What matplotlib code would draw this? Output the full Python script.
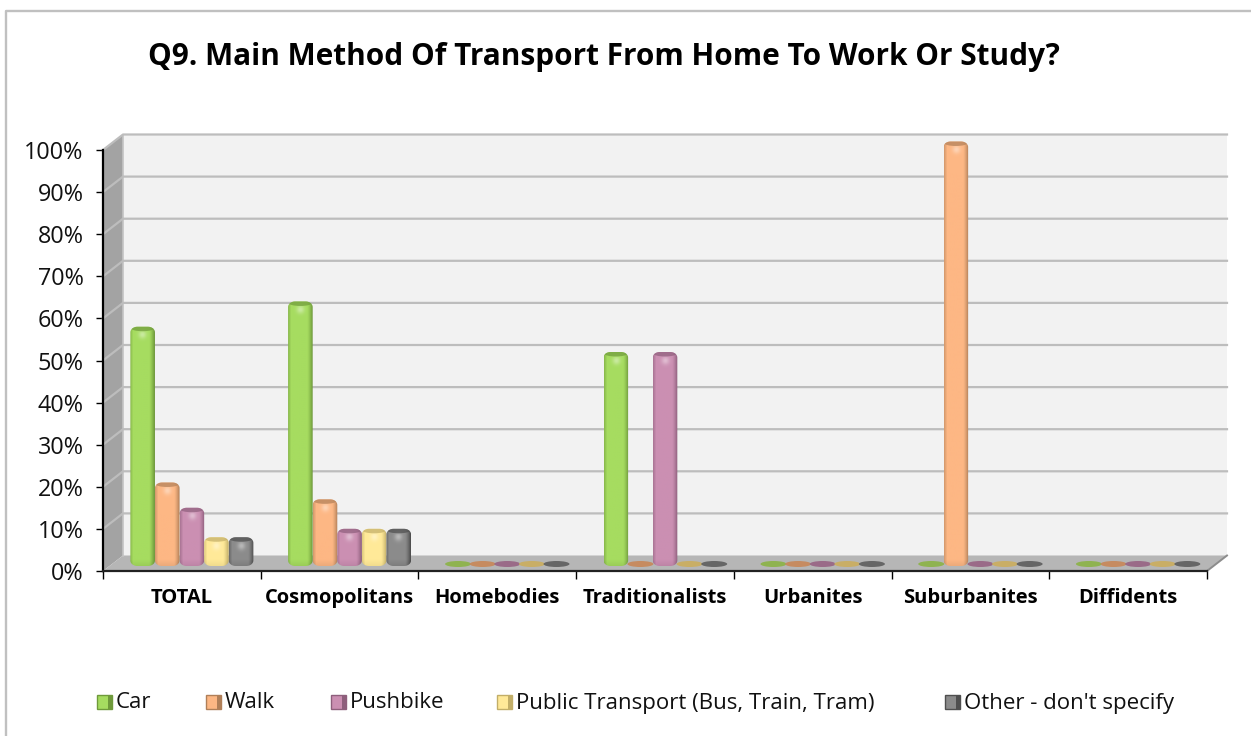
import numpy as np
import matplotlib
matplotlib.use("Agg")
import matplotlib.pyplot as plt
from matplotlib.patches import Ellipse, PathPatch, Polygon, Rectangle
from matplotlib.path import Path as MplPath

CATEGORIES = ["TOTAL", "Cosmopolitans", "Homebodies", "Traditionalists", "Urbanites", "Suburbanites", "Diffidents"]
SERIES = ["Car", "Walk", "Pushbike", "Public Transport (Bus, Train, Tram)", "Other - don't specify"]
CAR = [56, 62, 0, 50, 0, 0, 0]
WALK = [19, 15, 0, 0, 0, 100, 0]
PUSHBIKE = [13, 8, 0, 50, 0, 0, 0]
PUBLIC = [6, 8, 0, 0, 0, 0, 0]
OTHER = [6, 8, 0, 0, 0, 0, 0]
Y_TICKS = list(range(0, 101, 10))

BASE_COLORS = ["#a6dc60", "#fdb784", "#cb8fb2", "#ffe998", "#8b8b8b"]
DARK_COLORS = ["#6f9a3b", "#b07f58", "#8e5f7c", "#c2ae68", "#4f4f4f"]
FLAT_COLORS = ["#8fb350", "#c68b60", "#9a6b88", "#c9ae66", "#666666"]
LEGEND_SWATCH_X = [97, 206, 331, 497, 945]

W, H = 1251, 736
FONT = "Open Sans"
AX_LEFT, AX_RIGHT, AX_BOTTOM, AX_TOP = 103, 1207, 571, 150
PX_X = (AX_RIGHT - AX_LEFT) / 7
PX_Y = (AX_BOTTOM - AX_TOP) / 100
DEPTH_X = 20 / PX_X
DEPTH_Y = 15.5 / PX_Y
BAR_W = 24.6 / PX_X
BAR_SHIFT = 10 / PX_X
BAR_BASE = 5 / PX_Y
CAP = 3.5 / PX_Y

plt.rcParams["font.family"] = [FONT, "DejaVu Sans"]
fig = plt.figure(figsize=(W / 100, H / 100), dpi=100, facecolor="white")
ax = fig.add_axes([AX_LEFT / W, 1 - AX_BOTTOM / H, (AX_RIGHT - AX_LEFT) / W, (AX_BOTTOM - AX_TOP) / H])
ax.set_facecolor("none")


def hex_rgb(color):
    return np.array(matplotlib.colors.to_rgb(color))


def bar_path(x0, x1, y0, y1):
    # rounded column outline, corners are elliptical in pixel space
    rx = 7 / PX_X
    ry = 5.5 / PX_Y
    t = np.linspace(0, np.pi / 2, 12)
    pts = []
    pts += list(zip(x1 - rx + rx * np.sin(t), y0 + ry - ry * np.cos(t)))
    pts += list(zip(x1 - rx + rx * np.cos(t), y1 - ry + ry * np.sin(t)))
    pts += list(zip(x0 + rx - rx * np.sin(t), y1 - ry + ry * np.cos(t)))
    pts += list(zip(x0 + rx - rx * np.cos(t), y0 + ry - ry * np.sin(t)))
    pts.append(pts[0])
    return MplPath(pts, closed=True)


def draw_bar(center, value, idx):
    x0, x1 = center - BAR_W / 2, center + BAR_W / 2
    y0, y1 = BAR_BASE, value + BAR_BASE + CAP
    outline = PathPatch(bar_path(x0, x1, y0, y1), transform=ax.transData, facecolor="none", edgecolor="none", clip_on=False)
    ax.add_patch(outline)
    base, dark = hex_rgb(BASE_COLORS[idx]), hex_rgb(DARK_COLORS[idx])
    nx, ny = 26, max(int((y1 - y0) * PX_Y), 4)
    u = np.linspace(0, 1, nx)[None, :]
    px = np.arange(ny)[:, None]  # pixels from top
    # dark at right edge, slight dark at left edge
    mix = np.clip((u - 0.78) / 0.22, 0, 1) ** 1.3 + 0.5 * np.clip((0.12 - u) / 0.12, 0, 1)
    mix = mix + 0.25 * np.clip((px - (ny - 7)) / 7, 0, 1)
    mix = np.clip(mix, 0, 1)[:, :, None]
    img = base * (1 - mix) + dark * mix
    glow = np.exp(-((u - 0.5) / 0.16) ** 2 - ((px - 8) / 4.0) ** 2)[:, :, None] * 0.4
    img = img * (1 - glow) + glow
    im = ax.imshow(img, extent=(x0, x1, y0, y1), origin="upper", aspect="auto", zorder=5, interpolation="bilinear")
    # images get cut to the axes box unless told otherwise, the 100% column pokes above it
    im.set_clip_box(fig.bbox)
    im.set_clip_path(outline)
    cap = Ellipse((center, y1 - 1.5 / PX_Y), BAR_W * 0.95, 6 / PX_Y, facecolor=DARK_COLORS[idx], edgecolor="none", alpha=0.7, zorder=6)
    ax.add_patch(cap)
    cap.set_clip_box(fig.bbox)
    cap.set_clip_path(outline)


# walls and floor of the 3d box
ax.add_patch(Polygon([(0, 0), (DEPTH_X, DEPTH_Y), (DEPTH_X, 100 + DEPTH_Y), (0, 100)], facecolor="#a3a3a3", edgecolor="none", zorder=1, clip_on=False))
ax.add_patch(Rectangle((DEPTH_X, DEPTH_Y), 7, 100, facecolor="#f2f2f2", edgecolor="none", zorder=1, clip_on=False))
ax.add_patch(Polygon([(0, 0), (7, 0), (7 + DEPTH_X, DEPTH_Y), (DEPTH_X, DEPTH_Y)], facecolor="#b6b6b6", edgecolor="none", zorder=2, clip_on=False))
ax.plot([7, 7 + DEPTH_X], [0, DEPTH_Y], color="#8c8c8c", lw=1.4, zorder=2, clip_on=False)
ax.plot([DEPTH_X, DEPTH_X], [DEPTH_Y, 100 + DEPTH_Y], color="#c4c4c4", lw=1.2, zorder=2, clip_on=False)
for tick in Y_TICKS[1:]:
    ax.plot([0, DEPTH_X, 7 + DEPTH_X], [tick, tick + DEPTH_Y, tick + DEPTH_Y], color="#bdbdbd", lw=1.6, zorder=3, clip_on=False)

# columns, zero values show up as flat discs on the floor
rows = [CAR, WALK, PUSHBIKE, PUBLIC, OTHER]
for idx, values in enumerate(rows):
    for cat, value in enumerate(values):
        center = cat + 0.5 + BAR_SHIFT + (idx - 2) * BAR_W
        if value > 0:
            draw_bar(center, value, idx)
        else:
            ax.add_patch(Ellipse((center, 7 / PX_Y), 26 / PX_X, 6 / PX_Y, facecolor=FLAT_COLORS[idx], edgecolor="none", zorder=4))

ax.set_xlim(0, 7)
ax.set_ylim(0, 100)
for name in ("top", "right"):
    ax.spines[name].set_visible(False)
ax.spines["left"].set_linewidth(1.6)
ax.spines["bottom"].set_linewidth(1.6)
ax.spines["bottom"].set_color("#222222")
ax.spines["left"].set_zorder(8)
ax.spines["bottom"].set_zorder(8)
ax.set_yticks(Y_TICKS)
ax.set_yticklabels([f"{t}%" for t in Y_TICKS], fontsize=16.8, color="#111111")
ax.tick_params(axis="y", length=5, width=1, pad=9)
ax.set_xticks(range(8))
ax.set_xticklabels([])
ax.tick_params(axis="x", length=5.5, width=1)
ax.set_xticks(np.arange(7) + 0.5, minor=True)
ax.set_xticklabels(CATEGORIES, minor=True, fontsize=14.5, fontweight="bold", color="black")
ax.tick_params(axis="x", which="minor", length=0, pad=12.5)

# overlay in pixel coordinates for chart frame, legend
over = fig.add_axes([0, 0, 1, 1], facecolor="none")
over.set_xlim(0, W)
over.set_ylim(H, 0)
over.axis("off")
over.plot([6, 6, W], [H, 11, 11], color="#c0c0c0", lw=1.7)
over.text(604, 57, "Q9. Main Method Of Transport From Home To Work Or Study?", ha="center", va="center", fontsize=21.4, fontweight="bold", color="black")

for idx, label in enumerate(SERIES):
    sx = LEGEND_SWATCH_X[idx]
    over.add_patch(Rectangle((sx, 695), 15, 14, facecolor=BASE_COLORS[idx], edgecolor=DARK_COLORS[idx], lw=1))
    over.add_patch(Rectangle((sx + 11, 695.5), 3.5, 13, facecolor=DARK_COLORS[idx], edgecolor="none"))
    over.text(sx + 19, 703, label, ha="left", va="center", fontsize=16, color="#111111")

fig.savefig("out.png", dpi=100)
